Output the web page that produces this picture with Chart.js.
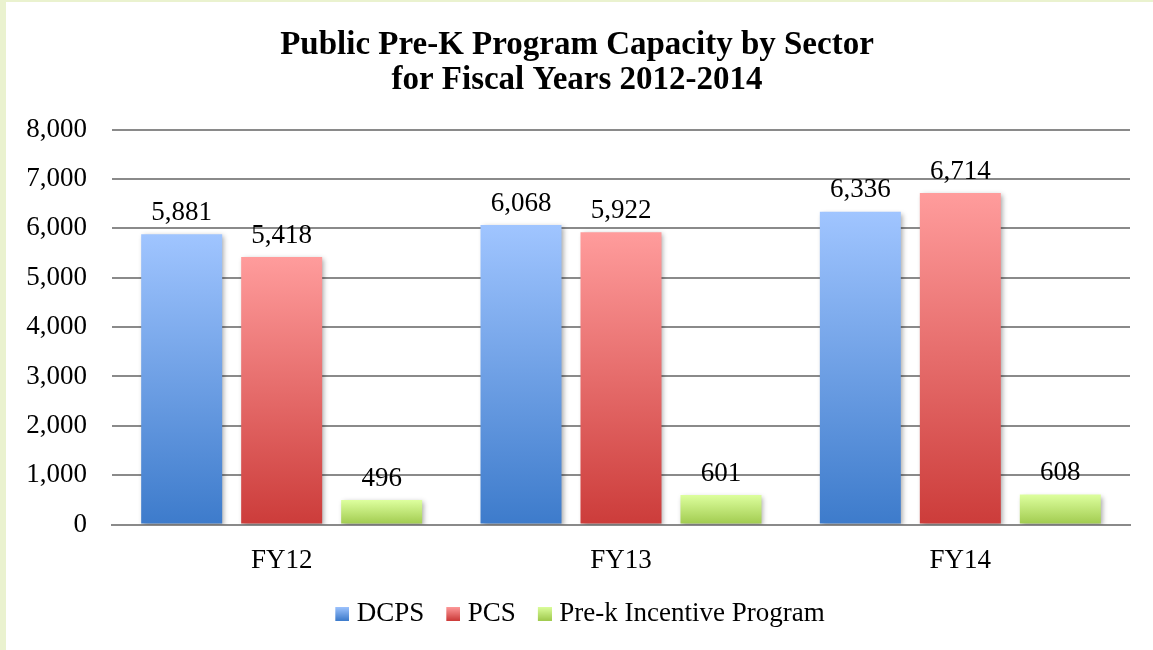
<!DOCTYPE html>
<html>
<head>
<meta charset="utf-8">
<script src="https://cdn.jsdelivr.net/npm/chart.js@4/dist/chart.umd.min.js"></script>
<style>
  html, body { margin:0; padding:0; background:#EAF2CF; }
  #wrap { position:absolute; left:6px; top:2px; width:1147px; height:648px; background:#fff; }
</style>
</head>
<body>
<div id="wrap"><canvas id="c" width="1147" height="648"></canvas></div>
<script>
const categories = ["FY12", "FY13", "FY14"];
const seriesNames = ["DCPS", "PCS", "Pre-k Incentive Program"];
const dcps = [5881, 6068, 6336];
const pcs = [5418, 5922, 6714];
const prek = [496, 601, 608];
const yTicks = [0, 1000, 2000, 3000, 4000, 5000, 6000, 7000, 8000];
const titleLines = ["Public Pre-K Program Capacity by Sector", "for Fiscal Years 2012-2014"];

const palette = [
  {top:"#A0C5FF", bottom:"#3D7BCB"},
  {top:"#FF9C9C", bottom:"#CC3C3A"},
  {top:"#DDFF9E", bottom:"#A0CA4E"}
];

function barGradient(idx) {
  return function(ctx) {
    const chart = ctx.chart;
    const mid = palette[idx].bottom;
    if (ctx.type !== 'data') return mid;
    const ys = chart.scales && chart.scales.y;
    if (!ys || !chart.chartArea) return mid;
    const v = ctx.raw;
    const yTop = ys.getPixelForValue(v);
    const yBase = ys.getPixelForValue(0);
    if (!isFinite(yTop) || !isFinite(yBase) || yBase - yTop < 1) return mid;
    const g = chart.ctx.createLinearGradient(0, yTop, 0, yBase);
    g.addColorStop(0, palette[idx].top);
    g.addColorStop(1, palette[idx].bottom);
    return g;
  };
}

// legend swatch: 14px square, drawn on the right of a wider transparent canvas
function legendIcon(idx) {
  const cv = document.createElement('canvas');
  cv.width = 26; cv.height = 14;
  const c = cv.getContext('2d');
  const g = c.createLinearGradient(0, 0, 0, 14);
  g.addColorStop(0, palette[idx].top);
  g.addColorStop(1, palette[idx].bottom);
  c.fillStyle = g;
  c.fillRect(12, 0, 14, 14);
  return cv;
}
const icons = [legendIcon(0), legendIcon(1), legendIcon(2)];

const FONT = "'Liberation Serif', 'Times New Roman', serif";

const valueLabels = {
  id: 'valueLabels',
  afterDatasetsDraw(chart) {
    const c = chart.ctx;
    c.save();
    c.font = "27px " + FONT;
    c.fillStyle = "#000";
    c.textAlign = "center";
    c.textBaseline = "bottom";
    chart.data.datasets.forEach((ds, di) => {
      const meta = chart.getDatasetMeta(di);
      meta.data.forEach((bar, i) => {
        c.fillText(ds.data[i].toLocaleString('en-US'), bar.x, bar.y - 8);
      });
    });
    c.restore();
  }
};

const barShadow = {
  id: 'barShadow',
  beforeDatasetDraw(chart) {
    const c = chart.ctx;
    c.save();
    c.shadowColor = 'rgba(0,0,0,0.35)';
    c.shadowBlur = 5;
    c.shadowOffsetX = 2;
    c.shadowOffsetY = 2;
  },
  afterDatasetDraw(chart) {
    chart.ctx.restore();
  }
};

const legendShift = {
  id: 'legendShift',
  afterLayout(chart) {
    const lg = chart.legend;
    if (lg) { lg.top -= 13; lg.bottom -= 13; }
  }
};

const seriesData = [dcps, pcs, prek];

new Chart(document.getElementById('c'), {
  type: 'bar',
  data: {
    labels: categories,
    datasets: seriesNames.map((n, i) => ({
      label: n,
      data: seriesData[i],
      backgroundColor: barGradient(i),
      borderWidth: 0,
      categoryPercentage: 0.884,
      barPercentage: 0.81,
      pointStyle: icons[i]
    }))
  },
  options: {
    responsive: false,
    animation: false,
    devicePixelRatio: 1,
    layout: { padding: { left: 18, right: 23, top: 0, bottom: 0 } },
    plugins: {
      title: {
        display: true,
        text: titleLines,
        color: '#000',
        font: { family: FONT, size: 33, weight: 'bold', lineHeight: 1.07 },
        padding: { top: 26, bottom: 31 }
      },
      legend: {
        position: 'bottom',
        labels: {
          usePointStyle: true,
          pointStyleWidth: 14,
          color: '#000',
          font: { family: FONT, size: 27 },
          padding: 16,
          boxWidth: 14,
          boxHeight: 14
        }
      },
      tooltip: { enabled: false }
    },
    scales: {
      x: {
        grid: { display: false, drawTicks: false },
        border: { display: true, color: '#8A8A8A', width: 2 },
        ticks: { color: '#000', font: { family: FONT, size: 27 }, padding: 20 }
      },
      y: {
        min: 0, max: 8000,
        afterBuildTicks(axis) { axis.ticks = yTicks.map(v => ({ value: v })); },
        afterFit(axis) { axis.width = 88; },
        grid: { color: '#8A8A8A', lineWidth: 2, drawTicks: false },
        border: { display: false },
        ticks: {
          color: '#000',
          font: { family: FONT, size: 27 },
          padding: 25,
          callback: v => v.toLocaleString('en-US')
        }
      }
    }
  },
  plugins: [barShadow, valueLabels, legendShift]
});
</script>
</body>
</html>
